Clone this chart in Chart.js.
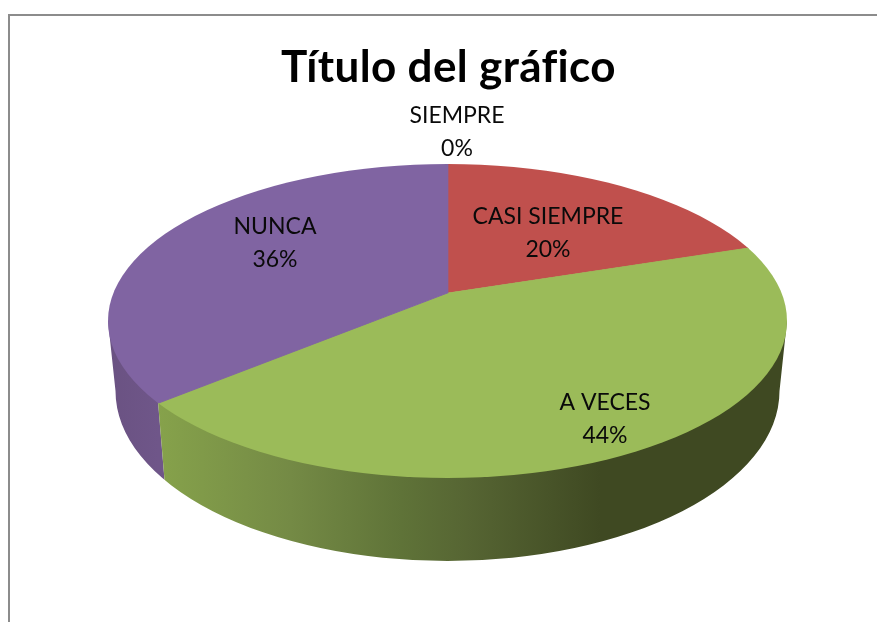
<!DOCTYPE html>
<html>
<head>
<meta charset="utf-8">
<style>
html,body{margin:0;padding:0;background:#fff;overflow:hidden}
#wrap{position:absolute;left:0;top:0;width:877px;height:622px}
#frame{position:absolute;left:8px;top:14px;width:900px;height:700px;border-left:2px solid #8c8c8c;border-top:2px solid #8c8c8c;box-sizing:border-box}
canvas{position:absolute;left:0;top:0}
</style>
<script src="https://cdn.jsdelivr.net/npm/chart.js@4/dist/chart.umd.min.js"></script>
</head>
<body>
<div id="wrap"><div id="frame"></div><canvas id="c" width="877" height="622"></canvas></div>
<script>
const titleText = 'Título del gráfico';
const categories = ['SIEMPRE', 'CASI SIEMPRE', 'A VECES', 'NUNCA'];
const values = [0, 20, 44, 36];
const topColors = ['#4f81bd', '#c0504d', '#9bbb59', '#8064a2'];

// Geometry of the tilted pie as it appears on the page
const top3d = {apexX: 447.5, apexY: 293, cx: 447.5, cy: 321, rx: 339.5, ry: 157};
const low3d = {cx: 447.5, cy: 391, rx: 332, ry: 170};
const tilt = 0.46;
const labelSpots = [[457, 116], [548, 217], [605, 403], [275, 227]];

const pie3d = {
  id: 'pie3d',
  beforeDraw(chart) {
    // keeps "fi" in the title as two separate letters
    chart.ctx.letterSpacing = '0.35px';
  },
  beforeDatasetsDraw(chart) {
    const ctx = chart.ctx, arcs = chart.getDatasetMeta(0).data;
    const t = top3d, l = low3d;
    // rim point of the boundary between the last two slices
    const a = arcs[3].startAngle;
    const dx = Math.cos(a), dy = Math.sin(a) * tilt;
    const ox = t.apexX - t.cx, oy = t.apexY - t.cy;
    const A = dx*dx/(t.rx*t.rx) + dy*dy/(t.ry*t.ry);
    const B = 2*(ox*dx/(t.rx*t.rx) + oy*dy/(t.ry*t.ry));
    const C = ox*ox/(t.rx*t.rx) + oy*oy/(t.ry*t.ry) - 1;
    const s = (-B + Math.sqrt(B*B - 4*A*C)) / (2*A);
    const px = t.apexX + s*dx, py = t.apexY + s*dy;
    const qx = l.cx + (px - t.cx)*l.rx/t.rx, qy = l.cy + (py - t.cy)*l.ry/t.ry;

    const hull = () => {
      ctx.beginPath();
      ctx.moveTo(t.cx - t.rx, t.cy);
      ctx.lineTo(l.cx - l.rx, l.cy);
      ctx.ellipse(l.cx, l.cy, l.rx, l.ry, 0, Math.PI, 0, true);
      ctx.lineTo(t.cx + t.rx, t.cy);
      ctx.closePath();
    };
    const kx = (qx - px)/(qy - py);
    const atY = y => px + (y - py)*kx;

    // back-left wall
    ctx.save();
    ctx.beginPath();
    ctx.moveTo(0, 250); ctx.lineTo(atY(250), 250); ctx.lineTo(atY(622), 622); ctx.lineTo(0, 622);
    ctx.closePath(); ctx.clip();
    hull();
    const gp = ctx.createLinearGradient(t.cx - t.rx, 0, px, 0);
    gp.addColorStop(0, '#6a5282');
    gp.addColorStop(1, '#6f5689');
    ctx.fillStyle = gp; ctx.fill();
    ctx.restore();

    // front wall
    ctx.save();
    ctx.beginPath();
    ctx.moveTo(877, 250); ctx.lineTo(atY(250), 250); ctx.lineTo(atY(622), 622); ctx.lineTo(877, 622);
    ctx.closePath(); ctx.clip();
    hull();
    const gg = ctx.createLinearGradient(px, 0, 600, 0);
    gg.addColorStop(0, '#86a24b');
    gg.addColorStop(0.3, '#748a45');
    gg.addColorStop(0.55, '#5f7338');
    gg.addColorStop(0.7, '#566533');
    gg.addColorStop(1, '#3f4922');
    ctx.fillStyle = gg; ctx.fill();
    ctx.restore();

    // top face: slices are drawn by Chart.js, squashed and trimmed to the rim ellipse
    const arc = arcs[1];
    const sx = 430 / arc.outerRadius, sy = sx * tilt;
    ctx.save();
    ctx.beginPath();
    ctx.ellipse(t.cx, t.cy, t.rx, t.ry, 0, 0, Math.PI*2);
    ctx.clip();
    ctx.translate(t.apexX, t.apexY);
    ctx.scale(sx, sy);
    ctx.translate(-arc.x, -arc.y);
  },
  afterDatasetsDraw(chart) {
    chart.ctx.restore();
    const ctx = chart.ctx;
    const total = values.reduce((p, v) => p + v, 0);
    ctx.save();
    ctx.letterSpacing = '0px';
    ctx.fillStyle = '#0a0a0a';
    ctx.font = '23px Lato, Carlito, sans-serif';
    ctx.textAlign = 'center';
    ctx.textBaseline = 'middle';
    categories.forEach((name, i) => {
      const [x, y] = labelSpots[i];
      ctx.fillText(name, x, y);
      ctx.fillText(Math.round(values[i] / total * 100) + '%', x, y + 33);
    });
    ctx.restore();
  }
};

new Chart(document.getElementById('c'), {
  type: 'pie',
  data: {
    labels: categories,
    datasets: [{
      data: values,
      backgroundColor: topColors,
      borderColor: topColors,
      borderWidth: [0, 1, 1, 1],
      hoverOffset: 0,
      clip: false
    }]
  },
  options: {
    responsive: false,
    animation: false,
    layout: {padding: {left: 20, top: 0, right: 0, bottom: 0}},
    plugins: {
      legend: {display: false},
      tooltip: {enabled: false},
      title: {
        display: true,
        text: titleText,
        color: '#000',
        font: {family: 'Lato, Carlito, sans-serif', size: 44, weight: 'bold'},
        padding: {top: 41, bottom: 10}
      }
    }
  },
  plugins: [pie3d]
});
</script>
</body>
</html>
